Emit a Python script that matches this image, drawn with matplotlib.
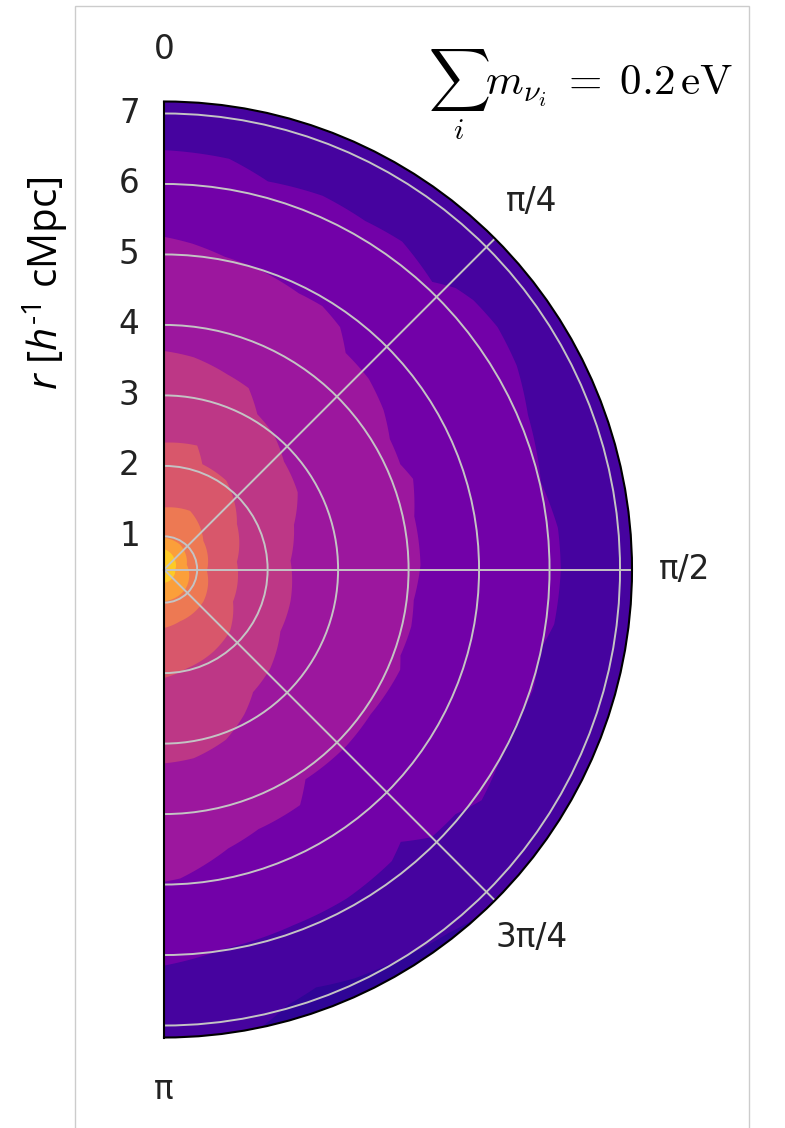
import numpy as np
import matplotlib
matplotlib.use("Agg")
import matplotlib.pyplot as plt
from matplotlib.patches import Rectangle

# contour band edges: angle (deg from top, clockwise) -> r [h^-1 cMpc]
# band 0 (darkest) only shows as a thin sliver on the outer rim near the bottom
theta_b1 = [138, 142, 148, 155, 160, 164, 168]
r_b1 = [7.17, 7.08, 7.00, 6.93, 6.84, 6.95, 7.17]

theta_b2 = [0, 9, 15, 23, 30, 36, 43, 46, 49, 54, 60, 67, 77, 84, 90, 98, 102,
            108, 115, 121, 126, 130, 135, 139, 142, 151, 160, 171, 180]
r_b2 = [6.48, 6.43, 6.23, 6.29, 6.24, 6.28, 6.11, 6.28, 6.35, 6.38, 6.31, 6.14,
        6.02, 6.15, 6.16, 6.12, 5.99, 6.04, 5.97, 6.03, 6.10, 5.93, 5.90, 5.65,
        5.78, 5.87, 5.90, 5.98, 6.15]

theta_b3 = [0, 5, 11, 18, 26, 31, 36, 40, 47, 54, 60, 66, 70, 78, 89, 97, 103,
            110, 113, 125, 134, 146, 150, 160, 167, 177, 180]
r_b3 = [5.25, 5.17, 5.05, 4.99, 4.89, 4.89, 4.78, 4.54, 4.50, 4.38, 4.23, 4.20,
        4.29, 4.16, 4.17, 4.10, 4.13, 4.10, 4.17, 4.11, 4.13, 4.12, 4.39, 4.45,
        4.59, 4.92, 4.96]

theta_b4 = [0, 8, 18, 25, 31, 39, 48, 60, 71, 86, 104, 118, 133, 144, 151, 160, 171, 180]
r_b4 = [3.63, 3.57, 3.44, 3.37, 3.10, 3.00, 2.82, 2.72, 2.48, 2.33, 2.38, 2.40,
        2.59, 2.68, 2.88, 3.10, 3.24, 3.28]

theta_b5 = [0, 15, 20, 35, 58, 84, 115, 133, 149, 167, 180]
r_b5 = [2.33, 2.35, 2.12, 2.07, 1.75, 1.57, 1.61, 1.81, 1.89, 1.97, 2.07]

theta_b6 = [0, 24, 54, 92, 129, 163, 180]
r_b6 = [1.41, 1.44, 1.22, 1.14, 1.25, 1.30, 1.36]

theta_b7 = [0, 33, 78, 132, 180]
r_b7 = [0.98, 0.95, 0.86, 0.94, 0.98]

theta_b8 = [0, 45, 90, 135, 180]
r_b8 = [0.82, 0.74, 0.69, 0.70, 0.72]

r_min, r_max = 0.53, 7.17
r_ticks = [1, 2, 3, 4, 5, 6, 7]
theta_ticks = [0, 45, 90, 135, 180]
theta_labels = ["0", "π/4", "π/2", "3π/4", "π"]

cmap = plt.get_cmap("plasma")
band_colors = cmap(np.linspace(0, 1, 10))
band_colors[0] = cmap(0.06)  # the rim sliver reads a touch lighter than pure plasma(0)

plt.rcParams["mathtext.fontset"] = "custom"
plt.rcParams["mathtext.rm"] = "Open Sans"
plt.rcParams["mathtext.it"] = "Open Sans:italic"

W, H = 785, 1128
fig = plt.figure(figsize=(W / 100, H / 100), dpi=100)

# wedge centre and radius in pixels; the half wedge only fills half of the axes box
cx, cy, R = 164, 569.5, 468
ax = fig.add_axes(((cx - R / 2) / W, (H - cy - 2 * R) / H, 2 * R / W, 4 * R / H),
                  projection="polar")
ax.set_thetamin(0)
ax.set_thetamax(180)
ax.set_theta_zero_location("N")
ax.set_theta_direction(-1)
ax.set_facecolor(band_colors[1])


def smooth(patches):
    for p in patches:
        p.get_path()._interpolation_steps = 40


# darkest sliver on the rim
t = np.deg2rad(theta_b1 + theta_b1[::-1])
r = r_b1 + [r_max + 0.2] * len(theta_b1)
smooth(ax.fill(t, r, color=band_colors[0], lw=0, zorder=1))

inner = [(theta_b2, r_b2), (theta_b3, r_b3), (theta_b4, r_b4), (theta_b5, r_b5),
         (theta_b6, r_b6), (theta_b7, r_b7), (theta_b8, r_b8)]
for k, (tb, rb) in enumerate(inner, start=2):
    t = np.deg2rad(tb + [180, 0])
    r = rb + [r_min, r_min]
    smooth(ax.fill(t, r, color=band_colors[k], lw=0, zorder=1))

ax.set_rlim(r_min, r_max)
ax.set_rticks(r_ticks)
ax.set_xticks(np.deg2rad(theta_ticks))
ax.set_xticklabels(theta_labels)
ax.tick_params(labelsize=23.5, colors="#222222")
ax.tick_params(axis="x", pad=27)
ax.tick_params(axis="y", pad=14)
ax.grid(True, color="#c4c4c4", lw=1.4)
for s in ax.spines.values():
    s.set_linewidth(1.5)
    s.set_color("black")

# light frame round the panel
fig.add_artist(Rectangle((75 / W, -0.05), (749 - 75) / W, 1.05 - 6 / H,
                         transform=fig.transFigure, fill=False,
                         ec="#cccccc", lw=1.0, zorder=0))

fig.text(45 / W, 1 - 283 / H, r"$r$ [$h^{\text{-1}}$ cMpc]", rotation=90,
         ha="center", va="center", fontsize=29, family="Open Sans",
         math_fontfamily="custom")

fig.text(733 / W, 1 - 95 / H, r"$\sum_i m_{\nu_i}\;=\;0.2\,\mathrm{eV}$",
         ha="right", va="baseline", fontsize=31, math_fontfamily="cm",
         bbox=dict(facecolor="white", edgecolor="none", pad=10), zorder=5)

fig.savefig("out.png", dpi=100)
